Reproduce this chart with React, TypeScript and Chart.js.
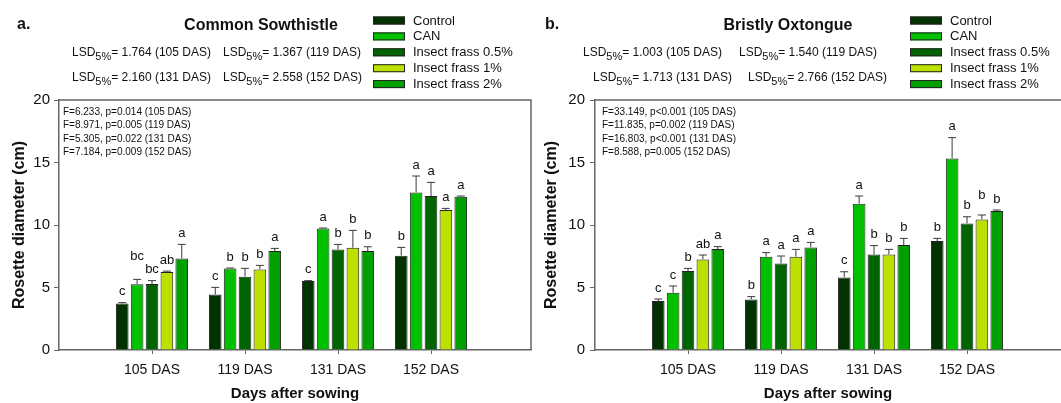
import React, { useEffect, useRef } from 'react';
import { Chart, registerables } from 'chart.js';
Chart.register(...registerables);

const FONT = "'Liberation Sans', Arial, sans-serif";

const categories = ['105 DAS', '119 DAS', '131 DAS', '152 DAS'];
const seriesNames = ['Control', 'CAN', 'Insect frass 0.5%', 'Insect frass 1%', 'Insect frass 2%'];
const seriesColors = ['#003300', '#00c000', '#006400', '#bde000', '#00a000'];
const yTicks = [0, 5, 10, 15, 20];

// Common Sowthistle
const sowControl = [3.72, 4.45, 5.52, 7.55];
const sowCAN = [5.27, 6.53, 9.73, 12.61];
const sowFrass05 = [5.28, 5.87, 8.05, 12.32];
const sowFrass1 = [6.24, 6.45, 8.18, 11.2];
const sowFrass2 = [7.33, 7.92, 7.92, 12.27];
const sowErrControl = [0.07, 0.56, 0.03, 0.66];
const sowErrCAN = [0.38, 0.03, 0.03, 1.31];
const sowErrFrass05 = [0.27, 0.66, 0.4, 1.09];
const sowErrFrass1 = [0.07, 0.32, 1.39, 0.13];
const sowErrFrass2 = [1.12, 0.21, 0.34, 0.05];
const sowLetControl = ['c', 'c', 'c', 'b'];
const sowLetCAN = ['bc', 'b', 'a', 'a'];
const sowLetFrass05 = ['bc', 'b', 'b', 'a'];
const sowLetFrass1 = ['ab', 'b', 'b', 'a'];
const sowLetFrass2 = ['a', 'a', 'b', 'a'];
const sowLSD = ['1.764', '1.367', '2.160', '2.558'];
const sowStats = [
  'F=6.233, p=0.014 (105 DAS)',
  'F=8.971, p=0.005 (119 DAS)',
  'F=5.305, p=0.022 (131 DAS)',
  'F=7.184, p=0.009 (152 DAS)',
];

// Bristly Oxtongue
const oxControl = [3.92, 4.05, 5.81, 8.72];
const oxCAN = [4.58, 7.47, 11.71, 15.33];
const oxFrass05 = [6.32, 6.93, 7.65, 10.13];
const oxFrass1 = [7.25, 7.47, 7.65, 10.45];
const oxFrass2 = [8.08, 8.21, 8.4, 11.12];
const oxErrControl = [0.16, 0.22, 0.45, 0.21];
const oxErrCAN = [0.54, 0.32, 0.61, 1.66];
const oxErrFrass05 = [0.21, 0.59, 0.7, 0.53];
const oxErrFrass1 = [0.35, 0.58, 0.4, 0.35];
const oxErrFrass2 = [0.19, 0.4, 0.53, 0.08];
const oxLetControl = ['c', 'b', 'c', 'b'];
const oxLetCAN = ['c', 'a', 'a', 'a'];
const oxLetFrass05 = ['b', 'a', 'b', 'b'];
const oxLetFrass1 = ['ab', 'a', 'b', 'b'];
const oxLetFrass2 = ['a', 'a', 'b', 'b'];
const oxLSD = ['1.003', '1.540', '1.713', '2.766'];
const oxStats = [
  'F=33.149, p<0.001 (105 DAS)',
  'F=11.835, p=0.002 (119 DAS)',
  'F=16.803, p<0.001 (131 DAS)',
  'F=8.588, p=0.005 (152 DAS)',
];

type PanelCfg = {
  label: string;
  title: string;
  values: number[][];
  errors: number[][];
  letters: string[][];
  letterLift: Record<string, number>;
  lsd: string[];
  stats: string[];
  width: number;
  left: number;
  axisX: number;
  rightFrame: boolean;
  xMax: number;
  yTitlePad: number;
  yTickPad: number;
  labelX: number;
  titleX: number;
  lsdX: number[][];
  legendX: number;
  statsX: number;
};

const panels: PanelCfg[] = [
  {
    label: 'a.',
    title: 'Common Sowthistle',
    values: [sowControl, sowCAN, sowFrass05, sowFrass1, sowFrass2],
    errors: [sowErrControl, sowErrCAN, sowErrFrass05, sowErrFrass1, sowErrFrass2],
    letters: [sowLetControl, sowLetCAN, sowLetFrass05, sowLetFrass1, sowLetFrass2],
    letterLift: { '1-0': 12 },
    lsd: sowLSD,
    stats: sowStats,
    width: 535,
    left: 0,
    axisX: 59,
    rightFrame: true,
    xMax: 472 / 93,
    yTitlePad: 10,
    yTickPad: 4,
    labelX: 17,
    titleX: 261,
    lsdX: [[72, 223], [72, 223]],
    legendX: 373,
    statsX: 63,
  },
  {
    label: 'b.',
    title: 'Bristly Oxtongue',
    values: [oxControl, oxCAN, oxFrass05, oxFrass1, oxFrass2],
    errors: [oxErrControl, oxErrCAN, oxErrFrass05, oxErrFrass1, oxErrFrass2],
    letters: [oxLetControl, oxLetCAN, oxLetFrass05, oxLetFrass1, oxLetFrass2],
    letterLift: { '3-3': 9 },
    lsd: oxLSD,
    stats: oxStats,
    width: 526,
    left: 535,
    axisX: 60,
    rightFrame: false,
    xMax: 466 / 93,
    yTitlePad: 7,
    yTickPad: 5,
    labelX: 10,
    titleX: 253,
    lsdX: [[48, 204], [58, 213]],
    legendX: 375,
    statsX: 67,
  },
];

function Panel({ cfg }: { cfg: PanelCfg }) {
  const ref = useRef<HTMLCanvasElement | null>(null);
  useEffect(() => {
    if (!ref.current) return;
    const decor = {
      id: 'decor',
      afterDatasetsDraw(chart: any) {
        const ctx = chart.ctx as CanvasRenderingContext2D;
        const ys = chart.scales.y;
        const area = chart.chartArea;
        ctx.save();
        // error bars and letters
        cfg.values.forEach((vals, di) => {
          const meta = chart.getDatasetMeta(di);
          meta.data.forEach((el: any, i: number) => {
            const v = vals[i];
            const e = cfg.errors[di][i];
            const yTop = ys.getPixelForValue(v + e);
            ctx.strokeStyle = '#3a3a3a';
            ctx.lineWidth = 1;
            ctx.beginPath();
            ctx.moveTo(el.x, el.y);
            ctx.lineTo(el.x, yTop);
            ctx.moveTo(el.x - 4, yTop);
            ctx.lineTo(el.x + 4, yTop);
            ctx.stroke();
            ctx.fillStyle = '#111';
            ctx.font = `13px ${FONT}`;
            ctx.textAlign = 'center';
            ctx.textBaseline = 'middle';
            const lift = cfg.letterLift[`${di}-${i}`] ?? 0;
            ctx.fillText(cfg.letters[di][i], el.x, yTop - 11 - lift);
          });
        });
        // frame
        ctx.strokeStyle = '#666';
        ctx.lineWidth = 1.5;
        ctx.beginPath();
        ctx.moveTo(area.left, area.top);
        ctx.lineTo(area.right, area.top);
        if (cfg.rightFrame) ctx.lineTo(area.right, area.bottom);
        ctx.stroke();
        // stats text
        ctx.fillStyle = '#111';
        ctx.font = `10px ${FONT}`;
        ctx.textAlign = 'left';
        ctx.textBaseline = 'middle';
        cfg.stats.forEach((s, i) => ctx.fillText(s, cfg.statsX, 112 + i * 13.4));
        // panel label + title
        ctx.font = `bold 16px ${FONT}`;
        ctx.fillText(cfg.label, cfg.labelX, 25);
        ctx.textAlign = 'center';
        ctx.fillText(cfg.title, cfg.titleX, 26);
        // LSD lines
        ctx.textAlign = 'left';
        cfg.lsd.forEach((val, i) => {
          const row = Math.floor(i / 2);
          const col = i % 2;
          let x = cfg.lsdX[row][col];
          const y = row === 0 ? 53 : 78;
          ctx.font = `12px ${FONT}`;
          ctx.fillText('LSD', x, y);
          x += ctx.measureText('LSD').width;
          ctx.font = `11px ${FONT}`;
          ctx.fillText('5%', x, y + 4);
          x += ctx.measureText('5%').width;
          ctx.font = `12px ${FONT}`;
          ctx.fillText(`= ${val} (${categories[i]})`, x, y);
        });
        // legend
        ctx.font = `13px ${FONT}`;
        seriesNames.forEach((name, i) => {
          const y = 20.5 + i * 15.9;
          ctx.fillStyle = seriesColors[i];
          ctx.fillRect(cfg.legendX, y - 4, 32, 8);
          ctx.strokeStyle = '#222';
          ctx.lineWidth = 1;
          ctx.strokeRect(cfg.legendX + 0.5, y - 3.5, 31, 7);
          ctx.fillStyle = '#111';
          ctx.fillText(name, cfg.legendX + 40, y + 0.5);
        });
        ctx.restore();
      },
    };
    const chart = new Chart(ref.current, {
      type: 'bar',
      data: {
        datasets: cfg.values.map((vals, di) => ({
          label: seriesNames[di],
          data: vals.map((v, i) => ({ x: i + 1, y: v })),
          backgroundColor: seriesColors[di],
          borderColor: '#222',
          borderWidth: 1,
          categoryPercentage: 0.8,
          barPercentage: 0.85,
        })),
      },
      options: {
        responsive: false,
        animation: false,
        events: [],
        layout: { padding: { left: 0, top: 100, right: cfg.rightFrame ? cfg.width - 531 : 0, bottom: 0 } },
        plugins: { legend: { display: false }, tooltip: { enabled: false }, title: { display: false } },
        scales: {
          x: {
            type: 'linear',
            offset: false,
            min: 0,
            max: cfg.xMax,
            afterBuildTicks: (scale: any) => {
              scale.ticks = categories.map((_, i) => ({ value: i + 1 }));
            },
            afterFit: (scale: any) => {
              scale.height = 53;
            },
            ticks: {
              autoSkip: false,
              maxRotation: 0,
              padding: 8,
              color: '#111',
              font: { family: FONT, size: 14 },
              callback: (v: any) => categories[Number(v) - 1] ?? '',
            },
            grid: { offset: false, drawOnChartArea: false, drawTicks: true, tickLength: 4, color: '#666', lineWidth: 1 },
            border: { display: true, color: '#666', width: 1.5 },
            title: {
              display: true,
              text: 'Days after sowing',
              color: '#111',
              font: { family: FONT, size: 15, weight: 'bold' },
              padding: { top: 0, bottom: 0 },
            },
          },
          y: {
            min: 0,
            max: 20,
            afterBuildTicks: (scale: any) => {
              scale.ticks = yTicks.map((v) => ({ value: v }));
            },
            afterFit: (scale: any) => {
              scale.width = cfg.axisX;
            },
            ticks: {
              padding: cfg.yTickPad,
              color: '#111',
              font: { family: FONT, size: 15 },
            },
            grid: { drawOnChartArea: false, drawTicks: true, tickLength: 5, color: '#666', lineWidth: 1 },
            border: { display: true, color: '#666', width: 1.5 },
            title: {
              display: true,
              text: 'Rosette diameter (cm)',
              color: '#111',
              font: { family: FONT, size: 16, weight: 'bold' },
              padding: { top: cfg.yTitlePad, bottom: 0 },
            },
          },
        },
      } as any,
      plugins: [decor],
    });
    return () => chart.destroy();
  }, [cfg]);
  return (
    <canvas
      ref={ref}
      width={cfg.width}
      height={403}
      style={{ position: 'absolute', left: cfg.left, top: 0, width: cfg.width, height: 403 }}
    />
  );
}

export default function App() {
  useEffect(() => {
    document.body.style.margin = '0';
    document.body.style.overflow = 'hidden';
  }, []);
  return (
    <div style={{ position: 'fixed', left: 0, top: 0, width: 1061, height: 403, background: '#fff', overflow: 'hidden' }}>
      {panels.map((p) => (
        <Panel key={p.label} cfg={p} />
      ))}
    </div>
  );
}
